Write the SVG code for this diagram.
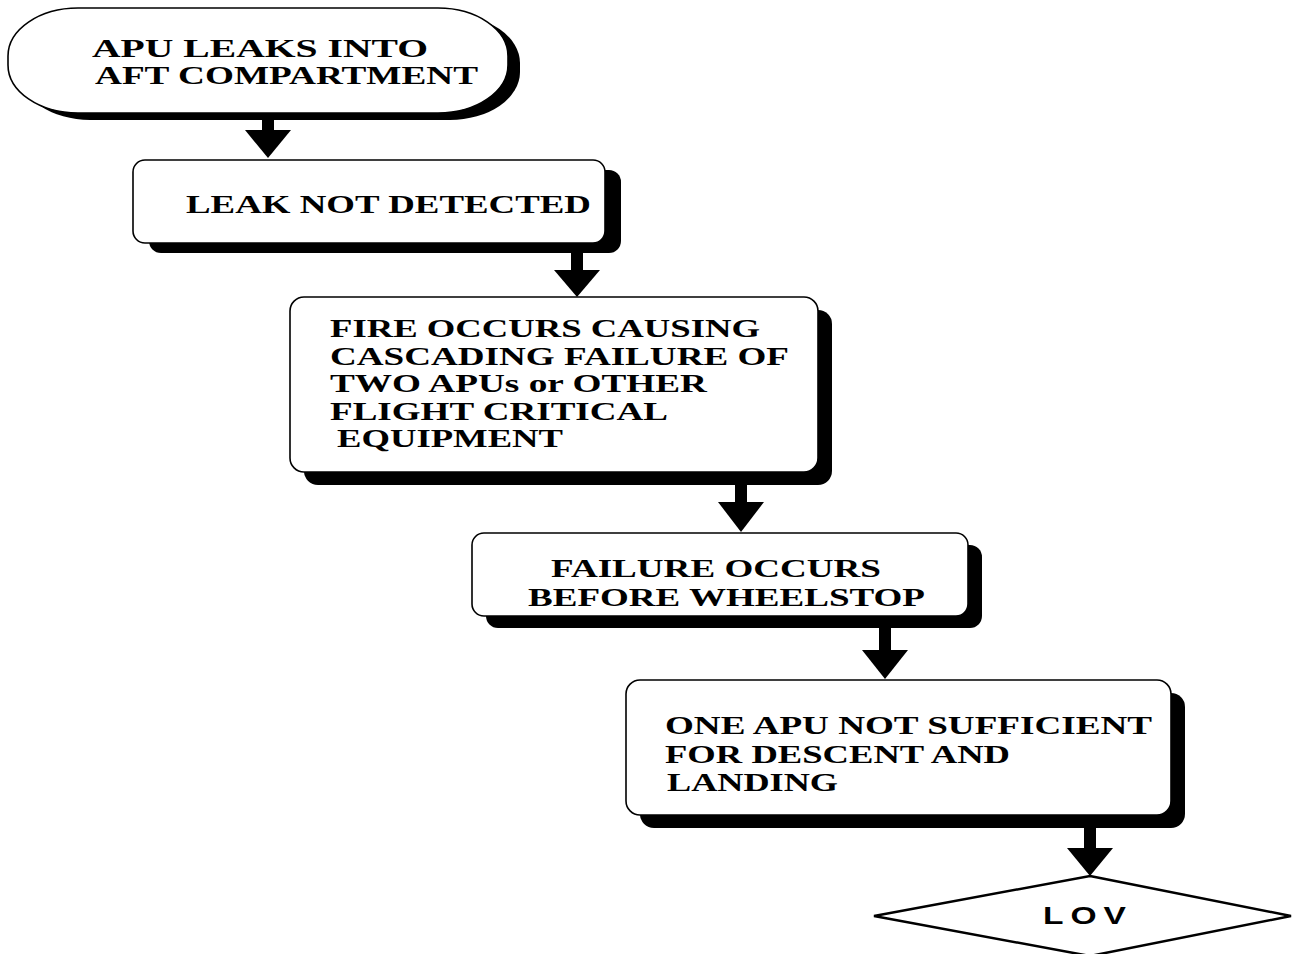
<svg xmlns="http://www.w3.org/2000/svg" width="1292" height="954" viewBox="0 0 1292 954">
<style>
.shadow{fill:#000}
.box{fill:#fff;stroke:#000;stroke-width:1.6}
.t{font-family:"Liberation Serif","Times New Roman",serif;font-weight:bold;font-size:26px;fill:#000}
.lov{font-family:"Liberation Sans",Arial,sans-serif;font-weight:bold;font-size:24px;fill:#000}
.arr{fill:#000}
.dia{fill:#fff;stroke:#000;stroke-width:2.5}
</style>
<rect width="1292" height="954" fill="#fff"/>
<g id="connectors">
<rect class="arr" x="262" y="116" width="12" height="16"/><polygon class="arr" points="245,130 291,130 268,158"/>
<rect class="arr" x="571" y="250" width="12" height="22"/><polygon class="arr" points="554,270 600,270 577,297"/>
<rect class="arr" x="735" y="483" width="12" height="21"/><polygon class="arr" points="718,502 764,502 741,532"/>
<rect class="arr" x="879" y="628" width="12" height="24"/><polygon class="arr" points="862,650 908,650 885,679"/>
<rect class="arr" x="1084" y="825" width="12" height="25"/><polygon class="arr" points="1067,848 1113,848 1090,876"/>
</g>
<g id="n1">
<rect class="shadow" x="20" y="15" width="500" height="105" rx="70" ry="48"/>
<rect class="box" x="8" y="8" width="500" height="105" rx="70" ry="48"/>
<text class="t" x="92" y="57" textLength="336" lengthAdjust="spacingAndGlyphs">APU LEAKS INTO</text>
<text class="t" x="95" y="84" textLength="383" lengthAdjust="spacingAndGlyphs">AFT COMPARTMENT</text>
</g>
<g id="n2">
<rect class="shadow" x="149" y="170" width="472" height="83" rx="12"/>
<rect class="box" x="133" y="160" width="472" height="83" rx="12"/>
<text class="t" x="186" y="213" textLength="405" lengthAdjust="spacingAndGlyphs">LEAK NOT DETECTED</text>
</g>
<g id="n3">
<rect class="shadow" x="304" y="310" width="528" height="175" rx="14"/>
<rect class="box" x="290" y="297" width="528" height="175" rx="14"/>
<text class="t" x="330" y="337" textLength="430" lengthAdjust="spacingAndGlyphs">FIRE OCCURS CAUSING</text>
<text class="t" x="330" y="365" textLength="459" lengthAdjust="spacingAndGlyphs">CASCADING FAILURE OF</text>
<text class="t" x="330" y="392" textLength="377" lengthAdjust="spacingAndGlyphs">TWO APUs or OTHER</text>
<text class="t" x="330" y="420" textLength="338" lengthAdjust="spacingAndGlyphs">FLIGHT CRITICAL</text>
<text class="t" x="337" y="447" textLength="226" lengthAdjust="spacingAndGlyphs">EQUIPMENT</text>
</g>
<g id="n4">
<rect class="shadow" x="486" y="545" width="496" height="83" rx="12"/>
<rect class="box" x="472" y="533" width="496" height="83" rx="12"/>
<text class="t" x="551" y="577" textLength="330" lengthAdjust="spacingAndGlyphs">FAILURE OCCURS</text>
<text class="t" x="528" y="606" textLength="397" lengthAdjust="spacingAndGlyphs">BEFORE WHEELSTOP</text>
</g>
<g id="n5">
<rect class="shadow" x="640" y="693" width="545" height="135" rx="14"/>
<rect class="box" x="626" y="680" width="545" height="135" rx="14"/>
<text class="t" x="665" y="734" textLength="487" lengthAdjust="spacingAndGlyphs">ONE APU NOT SUFFICIENT</text>
<text class="t" x="665" y="763" textLength="345" lengthAdjust="spacingAndGlyphs">FOR DESCENT AND</text>
<text class="t" x="667" y="791" textLength="171" lengthAdjust="spacingAndGlyphs">LANDING</text>
</g>
<g id="n6">
<polygon class="dia" points="1090,876 1291,916 1090,956 874,916"/>
<text class="lov" x="1043" y="924" textLength="90" lengthAdjust="spacingAndGlyphs" letter-spacing="5">LOV</text>
</g>
</svg>
